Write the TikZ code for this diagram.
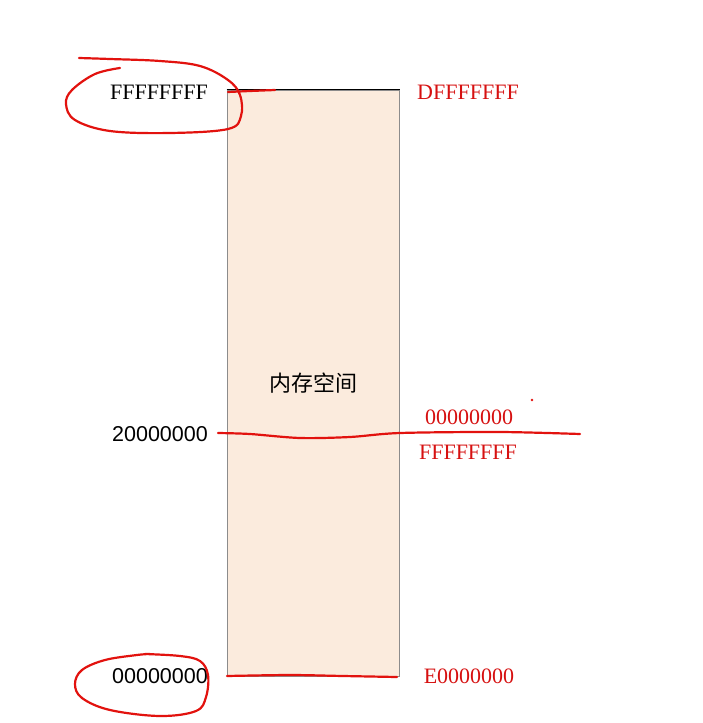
\documentclass[tikz,border=0pt]{standalone}
\usepackage{fontspec}
\setmainfont{Liberation Serif}
\newfontfamily\sansfont{Liberation Sans}
\newfontfamily\cjk{Noto Sans CJK SC}
\usetikzlibrary{positioning}
\definecolor{memFill}{RGB}{251,235,221}
\definecolor{memEdge}{RGB}{140,140,140}
\definecolor{penRed}{RGB}{226,18,14}
\definecolor{labelRed}{RGB}{214,16,16}

\begin{document}
\begin{tikzpicture}[
  x=1pt, y=-1pt,
  membox/.style={draw=memEdge, fill=memFill, line width=1pt, minimum width=172pt, minimum height=586pt, inner sep=0pt, font=\cjk\fontsize{22}{26}\selectfont},
  addr/.style={font=\fontsize{22}{26}\selectfont, inner sep=0pt},
  addrsans/.style={font=\sansfont\fontsize{21.5}{26}\selectfont, inner sep=0pt},
  newaddr/.style={addr, text=labelRed},
  pen/.style={draw=penRed, line width=2.2pt, line cap=round, line join=round}
]
\useasboundingbox (0,0) rectangle (702,723);

\node[membox] (mem) at (313,383) {内存空间};
\draw[line width=1pt] (mem.north west) -- (mem.north east);

% old addresses
\node[addr] (top) at (159,92) {FFFFFFFF};
\node[addrsans] (mid) at (160,434) {20000000};
\node[addrsans] (bot) at (160,676) {00000000};

% new addresses
\node[newaddr] (ntop) at (468,92) {DFFFFFFF};
\node[newaddr] (nlow) at (469,417) {00000000};
\node[newaddr] (nhigh) at (468,452) {FFFFFFFF};
\node[newaddr] (nbot) at (469,676) {E0000000};

% pen marks
\draw[pen] plot[smooth, tension=0.6] coordinates {(120,68) (95,74) (72,90) (66,104) (75,120) (110,131) (170,133) (228,129) (241,116) (240,95) (228,80) (200,66) (160,61) (110,59) (79,58)};
\draw[pen] plot[smooth] coordinates {(228,92) (250,91) (275,90)};
\draw[pen] plot[smooth, tension=0.6] coordinates {(145,654) (180,656) (200,661) (208,675) (206,697) (196,711) (160,716) (110,710) (82,698) (75,684) (82,670) (105,660) (137,655) (150,654)};
\draw[pen] plot[smooth] coordinates {(227,676) (290,675) (343,676) (397,677)};
\draw[pen] plot[smooth, tension=0.5] coordinates {(218,433) (250,434) (300,438) (350,437) (400,433) (500,432) (580,434)};
\fill[penRed] (532,400) circle (1.3pt);
\end{tikzpicture}
\end{document}
